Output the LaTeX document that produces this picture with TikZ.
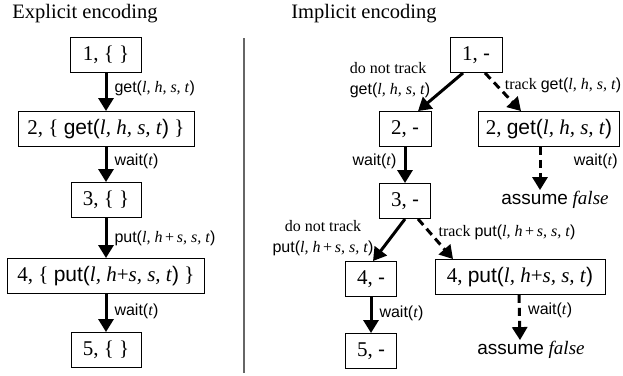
\documentclass[tikz,border=0pt]{standalone}
\usepackage{fontspec}
\setmainfont{Liberation Serif}
\setsansfont{Liberation Sans}
\usetikzlibrary{arrows.meta,positioning}

% operation labels
\newcommand{\opget}{\textsf{get(}\textit{l, h, s, t}\textsf{)}}
\newcommand{\opput}{\textsf{put(}\textit{l, h}+\textit{s, s, t}\textsf{)}}
\newcommand{\opputsp}{\textsf{put(}\textit{l, h\,}+\,\textit{s, s, t}\textsf{)}}
\newcommand{\opwait}{\textsf{wait(}\textit{t}\textsf{)}}
\newcommand{\assumefalse}{\textsf{assume} \textit{false}}

\begin{document}
\begin{tikzpicture}[
    x=1pt, y=-1pt,
    box/.style={draw, line width=0.9pt, minimum height=35pt, inner xsep=2pt, font=\fontsize{21}{25}\selectfont},
    arr/.style={-{Triangle[length=13pt,width=15pt]}, line width=3pt},
    dasharr/.style={arr, dash pattern=on 8pt off 5pt},
    lbl/.style={font=\fontsize{16}{21}\selectfont, inner sep=2pt},
    ttl/.style={font=\fontsize{20.5}{24}\selectfont, inner sep=0pt},
    res/.style={font=\fontsize{19}{23}\selectfont, inner sep=1pt}
]
\useasboundingbox (0,0) rectangle (623,375);

\node[ttl] (tex) at (85,14) {Explicit encoding};
\node[ttl] (tim) at (364,14) {Implicit encoding};
\draw[black!60, line width=1.2pt] (244,38) -- (244,373);

% explicit encoding
\node[box, minimum width=71pt] (e1) at (106,55) {1, \{ \}};
\node[box, minimum width=176pt] (e2) at (106,129) {2, \{ \opget{} \}};
\node[box, minimum width=70pt] (e3) at (106,200) {3, \{ \}};
\node[box, minimum width=197pt] (e4) at (106,276) {4, \{ \opput{} \}};
\node[box, minimum width=70pt] (e5) at (106,350) {5, \{ \}};

\draw[arr] (e1) -- node[lbl, right=5pt, pos=0.4] {\opget} (e2);
\draw[arr] (e2) -- node[lbl, right=5pt, pos=0.4] {\opwait} (e3);
\draw[arr] (e3) -- node[lbl, right=5pt, pos=0.5] {\opputsp} (e4);
\draw[arr] (e4) -- node[lbl, right=5pt, pos=0.45] {\opwait} (e5);

% implicit encoding
\node[box, minimum width=52pt] (i1) at (476,55) {1, \textsf{-}};
\node[box, minimum width=52pt] (i2a) at (405,129) {2, \textsf{-}};
\node[box, minimum width=141pt] (i2b) at (549,129) {2, \opget};
\node[res] (f1) at (555,200) {\assumefalse};
\node[box, minimum width=51pt] (i3) at (405,201) {3, \textsf{-}};
\node[box, minimum width=51pt] (i4a) at (371,279) {4, \textsf{-}};
\node[box, minimum width=170pt] (i4b) at (520,277) {4, \opput};
\node[box, minimum width=51pt] (i5) at (371,351) {5, \textsf{-}};
\node[res] (f2) at (531,350) {\assumefalse};

\node[lbl, align=left] (nt1) at (390,80) {do not track\\\opget};
\node[lbl] (t1) at (563,85) {track \opget};
\node[lbl, align=center] (nt2) at (323,238) {do not track\\\opputsp};
\node[lbl] (t2) at (507,232) {track \opputsp};

\draw[arr] ([xshift=-13pt]i1.south) -- ([xshift=13pt]i2a.north);
\draw[dasharr] ([xshift=9pt]i1.south) -- ([xshift=-28pt]i2b.north);
\draw[arr] (i2a) -- node[lbl, left=5pt, pos=0.4] {\opwait} (i3);
\draw[dasharr] ([xshift=-9pt]i2b.south) -- ([xshift=-15pt]f1.north);
\node[lbl, below left=5pt and 0pt of i2b.south east] (w2b) {\opwait};
\draw[arr] (i3.south) -- ([xshift=2pt]i4a.north);
\draw[dasharr] ([xshift=13pt]i3.south) -- ([xshift=-67pt]i4b.north);
\draw[arr] (i4a) -- node[lbl, right=5pt, pos=0.45] {\opwait} (i5);
\draw[dasharr] ([xshift=-1pt]i4b.south) -- ([xshift=-11pt]f2.north);
\node[lbl, below right=6pt and 6pt of i4b.south] (w4b) {\opwait};
\end{tikzpicture}
\end{document}
